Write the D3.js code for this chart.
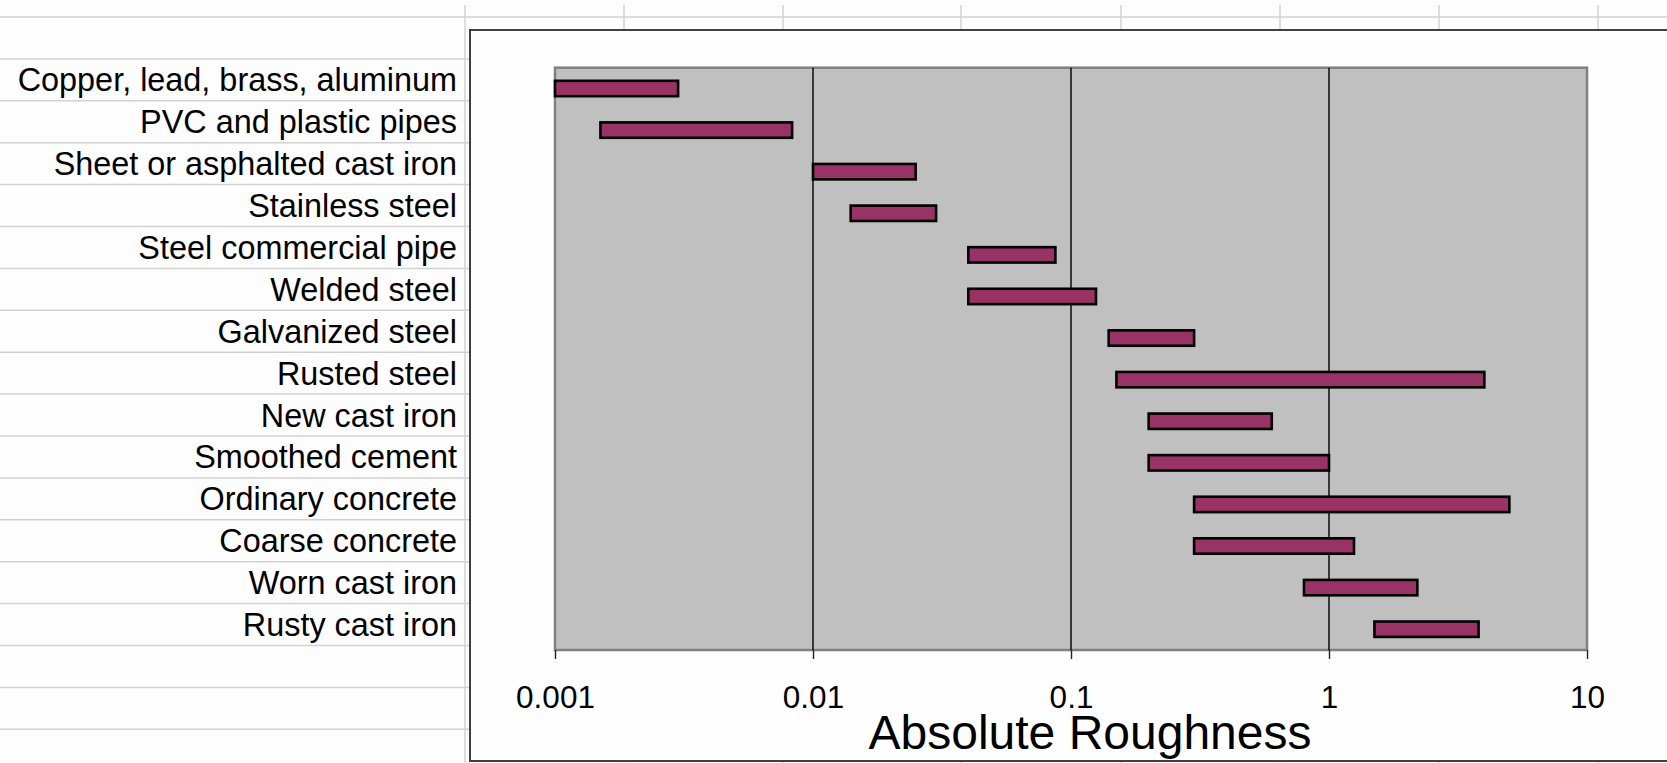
<!DOCTYPE html>
<html>
<head>
<meta charset="utf-8">
<script src="https://cdn.jsdelivr.net/npm/d3@7"></script>
<style>
  html, body { margin: 0; padding: 0; background: #fdfdfd; overflow: hidden; }
  svg { display: block; }
  text { font-family: "Liberation Sans", Arial, sans-serif; fill: #000; }
</style>
</head>
<body>
<svg id="chart" width="1667" height="763"></svg>
<script>
// ---- data ----
const categories = [
  "Copper, lead, brass, aluminum",
  "PVC and plastic pipes",
  "Sheet or asphalted cast iron",
  "Stainless steel",
  "Steel commercial pipe",
  "Welded steel",
  "Galvanized steel",
  "Rusted steel",
  "New cast iron",
  "Smoothed cement",
  "Ordinary concrete",
  "Coarse concrete",
  "Worn cast iron",
  "Rusty cast iron"
];
const roughMin = [0.001, 0.0015, 0.01, 0.014, 0.04, 0.04, 0.14, 0.15, 0.2, 0.2, 0.3, 0.3, 0.8, 1.5];
const roughMax = [0.003, 0.0083, 0.025, 0.03, 0.087, 0.125, 0.3, 4, 0.6, 1, 5, 1.25, 2.2, 3.8];
const tickValues = [0.001, 0.01, 0.1, 1, 10];
const tickLabels = ["0.001", "0.01", "0.1", "1", "10"];
const gridValues = [0.01, 0.1, 1];
const axisTitle = "Absolute Roughness";

// ---- layout ----
const W = 1667, H = 763;
const svg = d3.select("#chart");

// spreadsheet background grid
const sheetRowTop = 17, sheetRowH = 41.9, sheetRows = 18;
const sheetCols = [465, 624, 783, 961, 1121, 1280, 1439, 1598];
const gridColor = "#d2d2d2";
const sheet = svg.append("g");
sheet.append("rect").attr("width", W).attr("height", H).attr("fill", "#fdfdfd");
sheet.selectAll("line.h").data(d3.range(sheetRows)).join("line")
  .attr("x1", 0).attr("x2", W)
  .attr("y1", k => sheetRowTop + k * sheetRowH)
  .attr("y2", k => sheetRowTop + k * sheetRowH)
  .attr("stroke", gridColor).attr("stroke-width", 1.5);
sheet.selectAll("line.v").data(sheetCols).join("line")
  .attr("x1", d => d).attr("x2", d => d)
  .attr("y1", 5).attr("y2", H)
  .attr("stroke", gridColor).attr("stroke-width", 1.5);

// category labels in the spreadsheet cells
const rowScale = d3.scaleBand().domain(categories)
  .range([sheetRowTop + sheetRowH, sheetRowTop + sheetRowH * (categories.length + 1)]);
sheet.selectAll("text.cat").data(categories).join("text")
  .attr("class", "cat")
  .attr("x", 457)
  .attr("y", d => rowScale(d) + rowScale.bandwidth() - 9.5)
  .attr("text-anchor", "end")
  .style("font-size", "32.4px")
  .text(d => d);

// chart object
const chartX = 470, chartY = 30;
svg.append("rect")
  .attr("x", chartX).attr("y", chartY)
  .attr("width", W - chartX + 60).attr("height", 731)
  .attr("fill", "#fefefe").attr("stroke", "#404040").attr("stroke-width", 2);

// plot area
const plot = { left: 555, right: 1587, top: 67.7, bottom: 650 };
const x = d3.scaleLog().domain([0.001, 10]).range([plot.left, plot.right]);
const y = d3.scaleBand().domain(categories)
  .range([plot.top, plot.bottom])
  .paddingInner(0.63).paddingOuter(0.315);

svg.append("rect")
  .attr("x", plot.left).attr("y", plot.top)
  .attr("width", plot.right - plot.left).attr("height", plot.bottom - plot.top)
  .attr("fill", "#c0c0c0").attr("stroke", "#808080").attr("stroke-width", 2.5);

// vertical gridlines
svg.append("g").selectAll("line").data(gridValues).join("line")
  .attr("x1", d => x(d)).attr("x2", d => x(d))
  .attr("y1", plot.top).attr("y2", plot.bottom)
  .attr("stroke", "#000").attr("stroke-width", 1.4);

// axis
const axis = d3.axisBottom(x)
  .tickValues(tickValues)
  .tickFormat((d, i) => tickLabels[i])
  .tickSizeInner(9).tickSizeOuter(0);
const gAxis = svg.append("g").attr("transform", `translate(0,${plot.bottom})`).call(axis);
gAxis.select(".domain").remove();
gAxis.selectAll(".tick line").attr("stroke", "#222").attr("stroke-width", 1.4);
gAxis.selectAll(".tick text")
  .attr("y", 58).attr("dy", 0)
  .style("font-size", "31.5px")
  .style("font-family", "'Liberation Sans', Arial, sans-serif")
  .attr("fill", "#000");

// bars
svg.append("g").selectAll("rect").data(categories).join("rect")
  .attr("x", (d, i) => x(roughMin[i]))
  .attr("width", (d, i) => x(roughMax[i]) - x(roughMin[i]))
  .attr("y", d => y(d))
  .attr("height", y.bandwidth())
  .attr("fill", "#993366")
  .attr("stroke", "#000").attr("stroke-width", 2.6);

// axis title
svg.append("text")
  .attr("x", 1090).attr("y", 749)
  .attr("text-anchor", "middle")
  .style("font-size", "48px")
  .text(axisTitle);
</script>
</body>
</html>
